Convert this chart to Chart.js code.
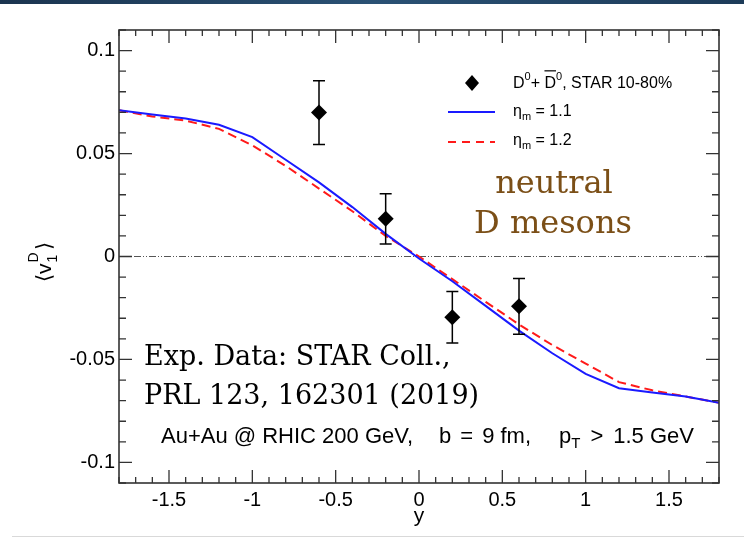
<!DOCTYPE html>
<html lang="en">
<head>
<meta charset="utf-8">
<title>D meson directed flow</title>
<script src="https://cdn.jsdelivr.net/npm/chart.js@4.4.0/dist/chart.umd.min.js"></script>
<style>
  html, body { margin: 0; padding: 0; background: #fff; }
  #wrap { position: relative; width: 744px; height: 547px; overflow: hidden; }
  #flow { position: absolute; left: 0; top: 0; }
  #topband { position: absolute; left: 0; top: 0; width: 744px; height: 4px;
             background: linear-gradient(90deg, #1b344f, #2a5174, #1d3b59); }
  #rule { position: absolute; left: 12px; top: 536px; width: 732px; height: 1px; background: #d9d9d9; }
</style>
</head>
<body>
<div id="wrap">
  <canvas id="flow" width="744" height="547"></canvas>
  <div id="topband"></div>
  <div id="rule"></div>
</div>

<script>
// STAR points (D0 + D0bar, 10-80%)
const starY   = [-0.6, -0.2, 0.2, 0.6];
const starV1  = [0.0699, 0.0183, -0.0295, -0.0242];
const starErr = [0.0155, 0.0122, 0.0125, 0.0135];

// model curves
const curveY = [-1.8, -1.6, -1.4, -1.2, -1.0, -0.8, -0.6, -0.4, -0.2, 0,
                0.2, 0.4, 0.6, 0.8, 1.0, 1.2, 1.4, 1.6, 1.8];
const eta11 = [0.071, 0.069, 0.067, 0.064, 0.058, 0.047, 0.036, 0.024, 0.011, -0.001,
               -0.012, -0.024, -0.036, -0.047, -0.057, -0.064, -0.066, -0.068, -0.071];
const eta12 = [0.071, 0.068, 0.066, 0.062, 0.054, 0.044, 0.033, 0.022, 0.010, 0.000,
               -0.011, -0.022, -0.033, -0.043, -0.052, -0.061, -0.065, -0.068, -0.071];

const xTicks = [-1.5, -1, -0.5, 0, 0.5, 1, 1.5];
const yTicks = [-0.1, -0.05, 0, 0.05, 0.1];
const xRange = [-1.8, 1.8];
const yRange = [-0.11, 0.11];

const SANS = '"Liberation Sans", Arial, sans-serif';
const SERIF = '"DejaVu Serif", serif';

function pts(xs, ys) { return xs.map((x, i) => ({ x: x, y: ys[i] })); }

// vertical error bars with small caps, drawn under the diamonds
const errorBars = {
  id: 'errorBars',
  beforeDatasetDraw(chart, args) {
    if (args.index !== 0) return;
    const { ctx, scales: { x, y } } = chart;
    ctx.save();
    ctx.strokeStyle = '#000';
    ctx.lineWidth = 1.5;
    starY.forEach((v, i) => {
      const px = x.getPixelForValue(v);
      const hi = y.getPixelForValue(starV1[i] + starErr[i]);
      const lo = y.getPixelForValue(starV1[i] - starErr[i]);
      ctx.beginPath();
      ctx.moveTo(px, hi); ctx.lineTo(px, lo);
      ctx.moveTo(px - 6, hi); ctx.lineTo(px + 6, hi);
      ctx.moveTo(px - 6, lo); ctx.lineTo(px + 6, lo);
      ctx.stroke();
    });
    ctx.restore();
  }
};

// text pieces with sub/superscripts and explicit gaps
function runText(ctx, x, y, parts, size) {
  parts.forEach(p => {
    if (p.gap) { x += p.gap; return; }
    const s = p.sup || p.sub ? Math.round(size * 0.68) : size;
    ctx.font = s + 'px ' + SANS;
    const dy = p.sup ? -size * 0.42 : p.sub ? size * 0.32 : 0;
    const t = p.sup || p.sub || p.t;
    ctx.fillText(t, x, y + dy);
    const w = ctx.measureText(t).width;
    if (p.bar) {
      ctx.fillRect(x, y - size * 0.86, w, 1.2);
    }
    x += w;
  });
  return x;
}

const frameAndText = {
  id: 'frameAndText',
  afterDraw(chart) {
    const { ctx, chartArea: a, scales: { x, y } } = chart;
    ctx.save();

    // frame
    ctx.strokeStyle = '#333';
    ctx.lineWidth = 1.6;
    ctx.strokeRect(a.left, a.top, a.right - a.left, a.bottom - a.top);

    // inward ticks on all four sides
    ctx.lineWidth = 1.3;
    ctx.beginPath();
    for (let k = -18; k <= 18; k++) {
      const px = x.getPixelForValue(k / 10);
      const len = k % 5 === 0 ? 13 : 6;
      ctx.moveTo(px, a.bottom); ctx.lineTo(px, a.bottom - len);
      ctx.moveTo(px, a.top); ctx.lineTo(px, a.top + len);
    }
    for (let k = -11; k <= 11; k++) {
      const py = y.getPixelForValue(k / 100);
      const len = k % 5 === 0 ? 13 : 7;
      ctx.moveTo(a.left, py); ctx.lineTo(a.left + len, py);
      ctx.moveTo(a.right, py); ctx.lineTo(a.right - len, py);
    }
    ctx.stroke();

    ctx.fillStyle = '#000';
    ctx.textBaseline = 'middle';

    // axis titles
    ctx.textAlign = 'center';
    ctx.font = '21px ' + SANS;
    ctx.fillText('y', (a.left + a.right) / 2, 516);

    ctx.save();
    ctx.translate(51, 258);
    ctx.rotate(-Math.PI / 2);
    ctx.textAlign = 'left';
    ctx.textBaseline = 'alphabetic';
    ctx.font = '21px ' + SANS;
    let cx = -24;
    ctx.fillText('\u27E8v', cx, 0);
    cx += ctx.measureText('\u27E8v').width;
    ctx.font = '14px ' + SANS;
    ctx.fillText('1', cx + 1, 6);
    ctx.fillText('D', cx + 1, -13);
    cx += ctx.measureText('D').width + 3;
    ctx.font = '21px ' + SANS;
    ctx.fillText('\u27E9', cx, 0);
    ctx.restore();

    // legend
    ctx.textAlign = 'left';
    ctx.fillStyle = '#000';
    ctx.beginPath();
    ctx.moveTo(472, 75); ctx.lineTo(479, 83); ctx.lineTo(472, 91); ctx.lineTo(465, 83);
    ctx.closePath(); ctx.fill();
    runText(ctx, 513, 84, [{ t: 'D' }, { sup: '0' }, { t: '+ ' }, { t: 'D', bar: true }, { sup: '0' },
                           { t: ', STAR 10-80%' }], 16);

    ctx.strokeStyle = '#1a1aff';
    ctx.lineWidth = 2;
    ctx.beginPath(); ctx.moveTo(448, 112); ctx.lineTo(495, 112); ctx.stroke();
    runText(ctx, 513, 112, [{ t: '\u03B7' }, { sub: 'm' }, { t: ' = 1.1' }], 16);

    ctx.strokeStyle = '#ff1a1a';
    ctx.setLineDash([8, 6]);
    ctx.beginPath(); ctx.moveTo(448, 142); ctx.lineTo(495, 142); ctx.stroke();
    ctx.setLineDash([]);
    runText(ctx, 513, 141, [{ t: '\u03B7' }, { sub: 'm' }, { t: ' = 1.2' }], 16);

    // collision system note
    runText(ctx, 161, 437, [
      { t: 'Au+Au @ RHIC 200 GeV,' }, { gap: 26 },
      { t: 'b' }, { gap: 9 }, { t: '=' }, { gap: 9 }, { t: '9 fm,' }, { gap: 28 },
      { t: 'p' }, { sub: 'T' }, { gap: 10 }, { t: '>' }, { gap: 10 }, { t: '1.5 GeV' }
    ], 22);

    // labels in slab serif
    ctx.font = '32px ' + SERIF;
    ctx.fillStyle = '#7b4f17';
    ctx.textAlign = 'center';
    ctx.fillText('neutral', 554, 185);
    ctx.fillText('D mesons', 553, 225);

    ctx.font = '27px ' + SERIF;
    ctx.fillStyle = '#000';
    ctx.textAlign = 'left';
    ctx.fillText('Exp. Data: STAR Coll.,', 144, 358);
    ctx.fillText('PRL 123, 162301 (2019)', 144, 397);

    ctx.restore();
  }
};

new Chart(document.getElementById('flow'), {
  type: 'scatter',
  data: {
    datasets: [
      {
        label: 'STAR',
        data: pts(starY, starV1),
        pointStyle: 'rectRot',
        pointRadius: 8,
        backgroundColor: '#000',
        borderColor: '#000',
        borderWidth: 0
      },
      {
        label: 'eta_m = 1.1',
        data: pts(curveY, eta11),
        showLine: true,
        pointRadius: 0,
        borderColor: '#1a1aff',
        borderWidth: 2,
        tension: 0
      },
      {
        label: 'eta_m = 1.2',
        data: pts(curveY, eta12),
        showLine: true,
        pointRadius: 0,
        borderColor: '#ff1a1a',
        borderDash: [9, 5],
        borderWidth: 2,
        tension: 0
      },
      {
        label: 'zero',
        data: pts(xRange, [0, 0]),
        showLine: true,
        pointRadius: 0,
        borderColor: '#555',
        borderDash: [7, 2, 1, 2, 1, 2],
        borderWidth: 1
      }
    ]
  },
  options: {
    responsive: false,
    animation: false,
    devicePixelRatio: 1,
    layout: { padding: { left: 0, right: 25, top: 30, bottom: 0 } },
    plugins: { legend: { display: false }, tooltip: { enabled: false } },
    scales: {
      x: {
        type: 'linear',
        min: xRange[0], max: xRange[1],
        grid: { display: false, drawTicks: false },
        border: { display: false },
        afterBuildTicks: s => { s.ticks = xTicks.map(v => ({ value: v })); },
        afterFit: s => { s.height = 64; },
        ticks: {
          padding: 5,
          color: '#000',
          font: { family: SANS, size: 20 },
          maxRotation: 0,
          callback: v => String(v)
        }
      },
      y: {
        type: 'linear',
        min: yRange[0], max: yRange[1],
        grid: { display: false, drawTicks: false },
        border: { display: false },
        afterBuildTicks: s => { s.ticks = yTicks.map(v => ({ value: v })); },
        afterFit: s => { s.width = 119; },
        ticks: {
          padding: 4,
          color: '#000',
          font: { family: SANS, size: 20 },
          callback: v => String(v)
        }
      }
    }
  },
  plugins: [errorBars, frameAndText]
});
</script>
</body>
</html>
